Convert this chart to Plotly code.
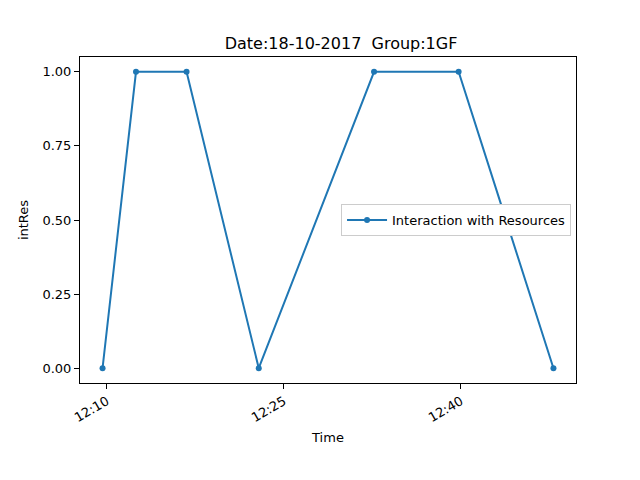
import plotly.graph_objects as go
import pandas as pd

times = ['2017-10-18 12:09:38', '2017-10-18 12:12:28', '2017-10-18 12:16:45',
         '2017-10-18 12:22:52', '2017-10-18 12:32:38', '2017-10-18 12:39:48',
         '2017-10-18 12:47:50']
int_res = [0, 1, 1, 0, 1, 1, 0]
tick_times = ['2017-10-18 12:10', '2017-10-18 12:25', '2017-10-18 12:40']
tick_labels = ['12:10', '12:25', '12:40']
y_ticks = [0, 0.25, 0.5, 0.75, 1.0]

t = pd.to_datetime(times)
pad = (t.max() - t.min()) * 0.05
x_range = [t.min() - pad, t.max() + pad]

font = dict(family='DejaVu Sans', size=13, color='black')

fig = go.Figure()
fig.add_trace(go.Scatter(x=t, y=int_res, mode='lines+markers', name='Interaction with Resources',
                         line=dict(color='#1f77b4', width=2), marker=dict(size=6, color='#1f77b4')))

# page body adds 8px, so the figure is shifted by that
fig.update_layout(
    width=632, height=472, plot_bgcolor='white', paper_bgcolor='white', font=font,
    margin=dict(l=72, r=64, t=49, b=97),
    title=dict(text='Date:18-10-2017  Group:1GF', x=0.527, xanchor='center', y=0.925,
               yanchor='middle', font=dict(family='DejaVu Sans', size=16, color='black')),
    legend=dict(x=0.99, xanchor='right', y=0.5, yanchor='middle', bgcolor='white',
                bordercolor='#cccccc', borderwidth=1, font=font, itemwidth=40),
    showlegend=True,
)
fig.update_xaxes(range=x_range, tickvals=pd.to_datetime(tick_times), ticktext=tick_labels,
                 tickangle=-30, ticks='outside', ticklen=5, tickcolor='black', tickfont=font,
                 showline=True, linecolor='black', linewidth=1, mirror=True, showgrid=False,
                 zeroline=False, title=dict(text='Time', standoff=8, font=font))
fig.update_yaxes(range=[-0.05, 1.05], tickvals=y_ticks, tickformat='.2f', tickfont=font,
                 ticks='outside', ticklen=5, tickcolor='black',
                 showline=True, linecolor='black', linewidth=1, mirror=True, showgrid=False,
                 zeroline=False, title=dict(text='intRes', standoff=10, font=font))

fig.write_html('out.html')
